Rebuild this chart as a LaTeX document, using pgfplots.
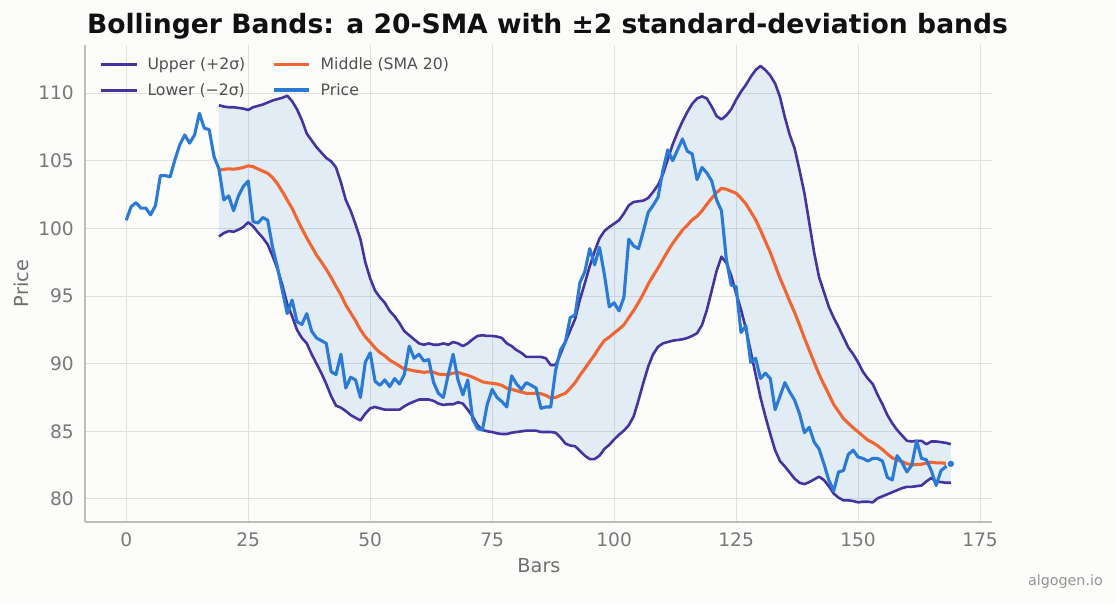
\documentclass[border=0pt]{standalone}
\usepackage{fontspec}
\setmainfont{DejaVu Sans}
\usepackage{xcolor}
\usepackage{pgfplots}
\usepackage{pgfplotstable}
\pgfplotsset{compat=1.18}
\usepgfplotslibrary{fillbetween}

\definecolor{bgc}{RGB}{252,252,250}
\definecolor{bandc}{RGB}{68,52,160}
\definecolor{midc}{RGB}{240,102,50}
\definecolor{pricec}{RGB}{42,122,214}
\definecolor{gridc}{RGB}{224,224,220}
\definecolor{spinec}{RGB}{190,190,182}
\definecolor{tickc}{RGB}{120,120,120}
\definecolor{labc}{RGB}{110,110,110}
\definecolor{legc}{RGB}{80,80,80}
\definecolor{wmc}{RGB}{150,150,150}
\definecolor{titc}{RGB}{17,17,17}

\pagecolor{bgc}

% closing price per bar
\pgfplotstableread{
x y
0 100.6
1 101.6
2 101.9
3 101.5
4 101.5
5 101.0
6 101.7
7 103.9
8 103.9
9 103.8
10 105.1
11 106.2
12 106.9
13 106.3
14 106.9
15 108.5
16 107.4
17 107.3
18 105.3
19 104.4
20 102.1
21 102.4
22 101.3
23 102.4
24 103.1
25 103.5
26 100.5
27 100.4
28 100.8
29 100.6
30 98.6
31 97.1
32 95.4
33 93.7
34 94.7
35 93.1
36 92.9
37 93.7
38 92.4
39 91.9
40 91.7
41 91.5
42 89.4
43 89.2
44 90.7
45 88.2
46 89.0
47 88.8
48 87.5
49 90.1
50 90.8
51 88.7
52 88.4
53 88.8
54 88.3
55 88.9
56 88.5
57 89.2
58 91.3
59 90.4
60 90.7
61 90.2
62 90.3
63 88.6
64 87.8
65 87.5
66 89.2
67 90.7
68 88.8
69 87.7
70 88.8
71 85.9
72 85.2
73 85.1
74 87.0
75 88.1
76 87.5
77 87.2
78 86.8
79 89.1
80 88.5
81 88.1
82 88.6
83 88.4
84 88.2
85 86.7
86 86.8
87 86.8
88 89.5
89 91.0
90 91.6
91 93.4
92 93.6
93 96.0
94 96.8
95 98.5
96 97.3
97 98.6
98 96.6
99 94.2
100 94.5
101 93.9
102 94.9
103 99.2
104 98.7
105 98.5
106 99.8
107 101.2
108 101.7
109 102.3
110 104.3
111 105.8
112 105.0
113 105.8
114 106.6
115 105.7
116 105.5
117 103.6
118 104.5
119 104.1
120 103.5
121 102.1
122 101.3
123 97.7
124 95.8
125 95.7
126 92.3
127 92.8
128 90.1
129 90.4
130 88.9
131 89.3
132 88.9
133 86.6
134 87.6
135 88.6
136 87.9
137 87.3
138 86.3
139 84.9
140 85.3
141 84.2
142 83.7
143 82.6
144 81.4
145 80.6
146 82.0
147 82.1
148 83.3
149 83.6
150 83.1
151 83.0
152 82.8
153 83.0
154 83.0
155 82.8
156 81.6
157 81.4
158 83.2
159 82.7
160 82.0
161 82.5
162 84.3
163 83.0
164 82.9
165 82.1
166 81.0
167 82.1
168 82.4
169 82.6
}\pricetable

% upper band, 20-bar SMA, lower band
\pgfplotstableread{
x up mid lo
19 109.1 104.29 99.4
20 109.0 104.36 99.65
21 108.95 104.40 99.8
22 108.95 104.37 99.75
23 108.9 104.42 99.9
24 108.85 104.50 100.1
25 108.75 104.62 100.45
26 108.95 104.56 100.15
27 109.05 104.39 99.7
28 109.15 104.23 99.3
29 109.3 104.07 98.8
30 109.45 103.75 97.95
31 109.55 103.29 97.0
32 109.65 102.72 95.8
33 109.8 102.09 94.4
34 109.4 101.48 93.5
35 108.8 100.71 92.5
36 108.0 99.98 91.9
37 107.0 99.30 91.5
38 106.5 98.66 90.7
39 106.0 98.03 90.0
40 105.6 97.51 89.3
41 105.2 96.97 88.5
42 104.95 96.37 87.6
43 104.5 95.71 86.9
44 103.4 95.09 86.75
45 102.1 94.33 86.5
46 101.3 93.75 86.2
47 100.3 93.17 86.0
48 99.2 92.51 85.8
49 97.5 91.98 86.3
50 96.3 91.59 86.7
51 95.4 91.17 86.8
52 94.9 90.82 86.7
53 94.5 90.58 86.6
54 93.9 90.26 86.6
55 93.5 90.05 86.6
56 93.0 89.83 86.6
57 92.4 89.60 86.85
58 92.1 89.55 87.05
59 91.8 89.47 87.2
60 91.5 89.42 87.35
61 91.4 89.36 87.35
62 91.5 89.40 87.35
63 91.4 89.37 87.25
64 91.4 89.23 87.05
65 91.5 89.19 86.95
66 91.4 89.20 87.0
67 91.6 89.30 87.0
68 91.5 89.36 87.15
69 91.3 89.24 87.05
70 91.5 89.14 86.6
71 91.8 89.00 86.1
72 92.05 88.84 85.45
73 92.1 88.66 85.1
74 92.05 88.59 85.0
75 92.05 88.55 84.95
76 92.0 88.50 84.85
77 91.9 88.40 84.8
78 91.5 88.18 84.8
79 91.3 88.11 84.9
80 91.0 88.00 84.95
81 90.8 87.90 85.0
82 90.5 87.81 85.05
83 90.5 87.80 85.05
84 90.5 87.82 85.05
85 90.5 87.78 84.95
86 90.4 87.66 84.95
87 89.9 87.47 84.95
88 89.9 87.50 84.9
89 90.7 87.67 84.55
90 91.6 87.81 84.1
91 92.45 88.18 83.95
92 93.3 88.60 83.9
93 94.75 89.15 83.55
94 95.95 89.64 83.2
95 97.2 90.16 82.95
96 98.3 90.65 82.95
97 99.25 91.22 83.2
98 99.8 91.71 83.7
99 100.1 91.96 84.0
100 100.35 92.26 84.4
101 100.6 92.55 84.75
102 101.1 92.87 85.05
103 101.7 93.41 85.45
104 101.95 93.93 86.1
105 102.0 94.52 87.3
106 102.05 95.17 88.6
107 102.25 95.89 89.8
108 102.7 96.50 90.7
109 103.2 97.07 91.25
110 104.0 97.70 91.5
111 105.1 98.32 91.6
112 106.2 98.89 91.7
113 107.1 99.38 91.75
114 107.9 99.87 91.8
115 108.6 100.23 91.9
116 109.2 100.64 92.05
117 109.6 100.89 92.25
118 109.75 101.29 92.85
119 109.6 101.78 93.95
120 109.0 102.23 95.4
121 108.3 102.64 96.85
122 108.05 102.96 97.9
123 108.35 102.89 97.45
124 108.8 102.74 96.5
125 109.5 102.60 95.2
126 110.1 102.23 94.0
127 110.6 101.81 92.6
128 111.2 101.23 90.9
129 111.7 100.63 89.2
130 112.0 99.86 87.5
131 111.7 99.04 86.1
132 111.3 98.23 84.8
133 110.7 97.27 83.6
134 109.7 96.32 82.8
135 108.2 95.47 82.4
136 106.9 94.59 81.95
137 105.9 93.77 81.5
138 104.3 92.86 81.2
139 102.6 91.90 81.1
140 100.4 90.99 81.25
141 98.2 90.10 81.45
142 96.4 89.22 81.65
143 95.3 88.46 81.4
144 94.2 87.74 80.95
145 93.4 86.99 80.4
146 92.7 86.47 80.1
147 91.95 85.94 79.9
148 91.2 85.60 79.9
149 90.7 85.26 79.85
150 90.1 84.97 79.75
151 89.4 84.65 79.8
152 88.9 84.35 79.8
153 88.5 84.17 79.75
154 87.7 83.94 80.05
155 87.0 83.65 80.2
156 86.2 83.33 80.35
157 85.6 83.04 80.5
158 85.1 82.88 80.65
159 84.7 82.77 80.8
160 84.3 82.61 80.9
161 84.25 82.52 80.9
162 84.3 82.55 80.95
163 84.3 82.57 81.0
164 84.05 82.65 81.3
165 84.25 82.72 81.55
166 84.25 82.67 81.3
167 84.2 82.67 81.25
168 84.15 82.63 81.2
169 84.05 82.58 81.2
}\bandtable

\begin{document}
\begin{tikzpicture}
% page frame
\path (0pt,0pt) rectangle (1116pt,603pt);

\begin{axis}[
  at={(85pt,81pt)}, anchor=south west,
  width=907pt, height=477pt, scale only axis,
  xmin=-8.45, xmax=177.45, ymin=78.3, ymax=113.55,
  xtick={0,25,...,175}, ytick={80,85,...,110},
  grid=major, major grid style={draw=gridc, line width=1pt},
  axis x line*=bottom, axis y line*=left,
  axis line style={draw=spinec, line width=1.6pt, -},
  major tick length=0pt, tick style={draw=none},
  /pgf/number format/assume math mode=true,
  tick label style={font=\fontsize{18.6}{22}\selectfont, text=tickc},
  xticklabel style={anchor=north, inner sep=0pt, yshift=-10.3pt},
  yticklabel style={anchor=east, inner sep=0pt, xshift=-11pt},
  legend columns=2,
  legend cell align=left,
  legend image code/.code={\draw[#1] (0pt,0pt) -- (35.4pt,0pt);},
  legend style={draw=none, fill=none, at={(axis description cs:0,1)},
    anchor=north west, xshift=14.6pt, yshift=-13pt,
    font=\fontsize{15.7}{18}\selectfont, text=legc,
    inner sep=0pt, outer sep=0pt, row sep=12pt,
    nodes={inner sep=0pt},
    /tikz/every even column/.append style={column sep=27pt},
    /tikz/every odd column/.append style={column sep=9.5pt}},
]
\addplot[name path=U, draw=bandc, line width=2.6pt, line join=round, forget plot]
  table[x=x, y=up] {\bandtable};
\addplot[name path=L, draw=bandc, line width=2.6pt, line join=round, forget plot]
  table[x=x, y=lo] {\bandtable};
\addplot[pricec, fill opacity=0.12, draw=none, forget plot] fill between[of=U and L];
\addplot[draw=midc, line width=3.1pt, line join=round, forget plot]
  table[x=x, y=mid] {\bandtable};
\addplot[draw=pricec, line width=3.1pt, line join=round, forget plot]
  table[x=x, y=y] {\pricetable};
\addplot[only marks, mark=*, mark size=4.2pt,
  mark options={fill=pricec, draw=white, line width=1.5pt}, forget plot]
  coordinates {(169,82.6)};

\addlegendimage{draw=bandc, line width=3pt}
\addlegendentry{Upper (+2σ)}
\addlegendimage{draw=midc, line width=3.4pt}
\addlegendentry{Middle (SMA 20)}
\addlegendimage{draw=bandc, line width=3pt}
\addlegendentry{Lower (−2σ)}
\addlegendimage{draw=pricec, line width=3.4pt}
\addlegendentry{Price}
\end{axis}

\node[anchor=base west, inner sep=0pt, font=\fontsize{26.6}{30}\selectfont\bfseries, text=titc]
  at (86.8pt,569.7pt) {Bollinger Bands: a 20-SMA with ±2 standard-deviation bands};
\node[anchor=base, inner sep=0pt, font=\fontsize{19.3}{22}\selectfont, text=labc]
  at (539pt,30.3pt) {Bars};
\node[anchor=base, inner sep=0pt, rotate=90, font=\fontsize{19.3}{22}\selectfont, text=labc]
  at (28pt,319.5pt) {Price};
\node[anchor=base east, inner sep=0pt, font=\fontsize{14.3}{16}\selectfont, text=wmc]
  at (1103pt,18pt) {algogen.io};
\end{tikzpicture}
\end{document}
